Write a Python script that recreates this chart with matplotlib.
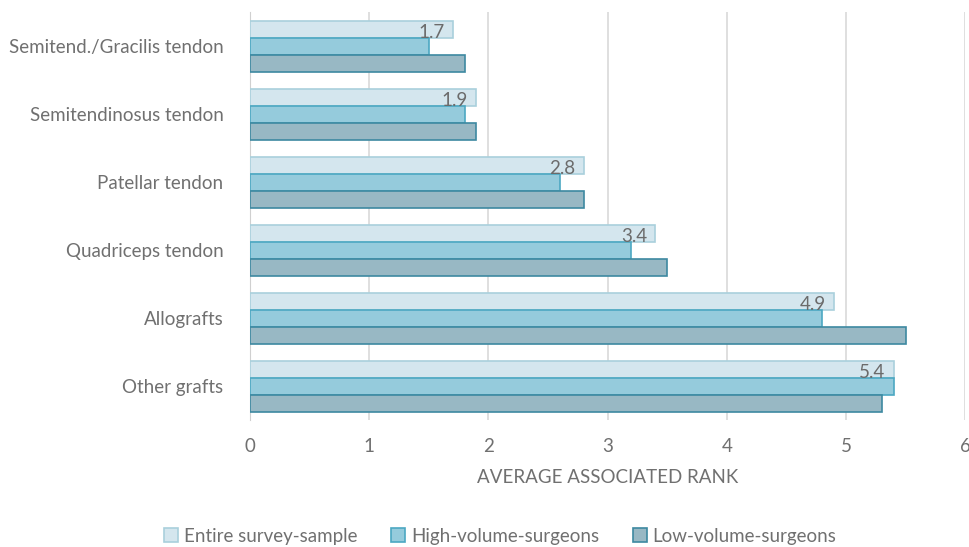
import matplotlib.pyplot as plt
import numpy as np

categories = [
    "Semitend./Gracilis tendon",
    "Semitendinosus tendon",
    "Patellar tendon",
    "Quadriceps tendon",
    "Allografts",
    "Other grafts",
]
entire_sample = [1.7, 1.9, 2.8, 3.4, 4.9, 5.4]
high_volume = [1.5, 1.8, 2.6, 3.2, 4.8, 5.4]
low_volume = [1.8, 1.9, 2.8, 3.5, 5.5, 5.3]
series_names = ["Entire survey-sample", "High-volume-surgeons", "Low-volume-surgeons"]

plt.rcParams["font.family"] = ["Lato", "DejaVu Sans"]
text_color = "#707070"

fig = plt.figure(figsize=(9.69, 5.47), dpi=100)
ax = fig.add_axes([0.258, 0.232, 0.738, 0.746])

y = np.arange(len(categories))
h = 0.25
styles = [
    ("#d4e6ee", "#a9d0dc"),
    ("#95cbdc", "#4ca8c2"),
    ("#98b8c4", "#3d89a1"),
]
for i, (vals, name, (fc, ec)) in enumerate(zip([entire_sample, high_volume, low_volume], series_names, styles)):
    bars = ax.barh(y + (i - 1) * h, vals, height=h, color=fc, edgecolor=ec,
                   linewidth=1.2, label=name, zorder=3)
    if i == 0:
        # value labels sit inside the end of the top bar
        for b, v in zip(bars, vals):
            ax.text(v - 0.07, b.get_y() + h / 2 + 0.05, f"{v:.1f}", ha="right", va="center",
                    fontsize=13.5, color="#6b6b6b", zorder=4)

ax.set_xlim(0, 6)
ax.set_ylim(len(categories) - 0.5, -0.5)
ax.set_yticks(y)
ax.set_yticklabels(categories, fontsize=13.5, color=text_color)
ax.set_xticks(range(7))
ax.tick_params(axis="x", labelsize=13.5, labelcolor=text_color, length=0, pad=13)
ax.tick_params(axis="y", length=0, pad=19)
ax.grid(axis="x", color="#d9d9d9", linewidth=1.2, zorder=0)
for s in ["top", "right", "bottom"]:
    ax.spines[s].set_visible(False)
ax.spines["left"].set_color("#d0d0d0")
ax.set_xlabel("AVERAGE ASSOCIATED RANK", fontsize=13.5, color=text_color, labelpad=10)

ax.legend(loc="center", bbox_to_anchor=(0.35, -0.285), ncol=3, frameon=False,
          fontsize=13.5, labelcolor=text_color, handlelength=0.75, handleheight=0.75,
          handletextpad=0.3, columnspacing=1.8)

fig.savefig("out.png", dpi=100)
